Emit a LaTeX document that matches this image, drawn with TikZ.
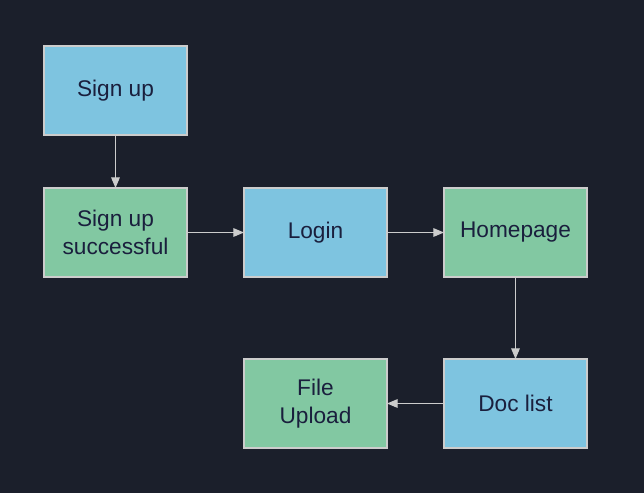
\documentclass[tikz,border=0pt]{standalone}
\usepackage{fontspec}
\setmainfont{Liberation Sans}
\usetikzlibrary{positioning,arrows.meta}
\definecolor{bg}{HTML}{1B1F2B}
\definecolor{boxblue}{HTML}{7EC4E0}
\definecolor{boxgreen}{HTML}{82C8A2}
\definecolor{edge}{HTML}{CCCCCC}
\definecolor{ink}{HTML}{1A1F3D}

\begin{document}
\begin{tikzpicture}[x = 0.75pt, y = -0.75pt,
        box/.style = {draw = edge, line width = 0.8pt, minimum width = 107.25pt, minimum height = 66.75pt,
            align = center, text = ink, font = \fontsize{17}{21}\selectfont, inner sep = 0pt, outer sep = 0pt},
        bluebox/.style = {box, fill = boxblue},
        greenbox/.style = {box, fill = boxgreen},
        flow/.style = {draw = edge, line width = 0.8pt, -{Triangle[length = 8pt, width = 6.5pt]}}]
            \fill[bg] (0,0) rectangle (644,493);
            \useasboundingbox (0,0) rectangle (644,493);
            \node[bluebox] (signup) at (115.5,90.5) {Sign up};
            \node[greenbox, below = 39.75pt of signup] (success) {Sign up\\successful};
            \node[bluebox, right = 42.75pt of success] (login) {Login};
            \node[greenbox, right = 42.75pt of login] (home) {Homepage};
            \node[bluebox, below = 61.5pt of home] (doclist) {Doc list};
            \node[greenbox, left = 42.75pt of doclist] (upload) {File\\Upload};
            \draw[flow] (signup) -- (success);
            \draw[flow] (success) -- (login);
            \draw[flow] (login) -- (home);
            \draw[flow] (home) -- (doclist);
            \draw[flow] (doclist) -- (upload);
        \end{tikzpicture}
\end{document}
